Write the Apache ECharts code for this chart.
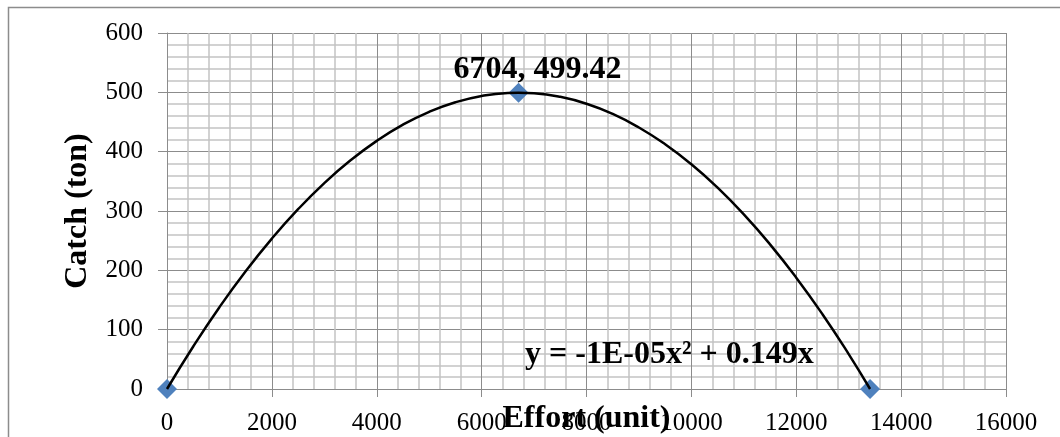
<!DOCTYPE html>
<html>
<head>
<meta charset="utf-8">
<script src="https://cdn.jsdelivr.net/npm/echarts@6/dist/echarts.min.js"></script>
<style>
  html, body { margin: 0; padding: 0; background: #fff; }
  #chart { width: 1060px; height: 437px; }
</style>
</head>
<body>
<div id="chart"></div>
<script>
// observed points
const effortPoints = [0, 6704, 13408];
const catchPoints = [0, 499.42, 0];

// trendline
const curveEffort = [0, 500, 1000, 1500, 2000, 2500, 3000, 3500, 4000, 4500, 5000, 5500, 6000, 6500, 6704,
    7000, 7500, 8000, 8500, 9000, 9500, 10000, 10500, 11000, 11500, 12000, 12500, 13000, 13408];
const curveCatch = [0, 71.7, 137.9, 198.5, 253.5, 303.0, 347.0, 385.4, 418.2, 445.5, 467.2, 483.3, 493.9, 499.0, 499.4,
    498.5, 492.4, 480.8, 463.6, 440.8, 412.5, 378.7, 339.3, 294.3, 243.8, 187.7, 126.1, 58.9, 0];

const equationText = 'y = -1E-05x² + 0.149x';
const serif = '"Liberation Serif", "Times New Roman", serif';

function initChart() {
    const chart = echarts.init(document.getElementById('chart'));

    const gridLine = { show: true, lineStyle: { color: '#8c8c8c', width: 1 } };
    const minorLine = { show: true, lineStyle: { color: '#c4c4c4', width: 1.5 } };
    const titleStyle = { fontFamily: serif, fontWeight: 'bold', fontSize: 32, color: '#000' };

    const option = {
        animation: false,
        grid: { left: 167, right: 54, top: 33, bottom: 48, outerBoundsMode: 'none' },
        xAxis: {
            type: 'value',
            min: 0,
            max: 16000,
            interval: 2000,
            name: 'Effort (unit)',
            nameLocation: 'middle',
            nameGap: 14,
            nameMoveOverlap: false,
            nameTextStyle: titleStyle,
            axisLine: { show: true, lineStyle: { color: '#8c8c8c' } },
            axisTick: { show: true, length: 8, lineStyle: { color: '#8c8c8c' } },
            axisLabel: { fontFamily: serif, fontSize: 25, color: '#000', margin: 22, formatter: v => String(v) },
            splitLine: gridLine,
            minorTick: { show: false, splitNumber: 5 },
            minorSplitLine: minorLine
        },
        yAxis: {
            type: 'value',
            min: 0,
            max: 600,
            interval: 100,
            name: 'Catch (ton)',
            nameLocation: 'middle',
            nameGap: 73,
            nameMoveOverlap: false,
            nameTextStyle: titleStyle,
            axisLine: { show: true, lineStyle: { color: '#8c8c8c' } },
            axisTick: { show: true, length: 9, lineStyle: { color: '#8c8c8c' } },
            axisLabel: { fontFamily: serif, fontSize: 25, color: '#000', margin: 24 },
            splitLine: gridLine,
            minorTick: { show: false, splitNumber: 5 },
            minorSplitLine: minorLine
        },
        series: [
            {
                type: 'line',
                data: curveEffort.map((x, i) => [x, curveCatch[i]]),
                smooth: true,
                showSymbol: false,
                lineStyle: { color: '#000', width: 2.5 },
                z: 3
            },
            {
                type: 'scatter',
                data: effortPoints.map((x, i) => ({
                    value: [x, catchPoints[i]],
                    label: Object.assign({
                        show: i === 1,
                        formatter: x + ', ' + catchPoints[i],
                        position: 'top',
                        offset: [19, 8]
                    }, titleStyle)
                })),
                symbol: 'diamond',
                symbolSize: [20, 20],
                itemStyle: { color: '#4f81bd', opacity: 1 },
                z: 2
            }
        ],
        graphic: [
            {
                type: 'rect',
                shape: { x: 8.5, y: 7.5, width: 1100, height: 500 },
                style: { fill: 'none', stroke: '#8c8c8c', lineWidth: 1.5 },
                silent: true
            },
            {
                type: 'text',
                left: 525,
                top: 339,
                style: {
                    text: equationText,
                    font: 'bold 32px ' + serif,
                    fill: '#000'
                },
                z: 10
            }
        ]
    };

    chart.setOption(option);
}

window.onload = function () {
    initChart();
};
</script>
</body>
</html>
